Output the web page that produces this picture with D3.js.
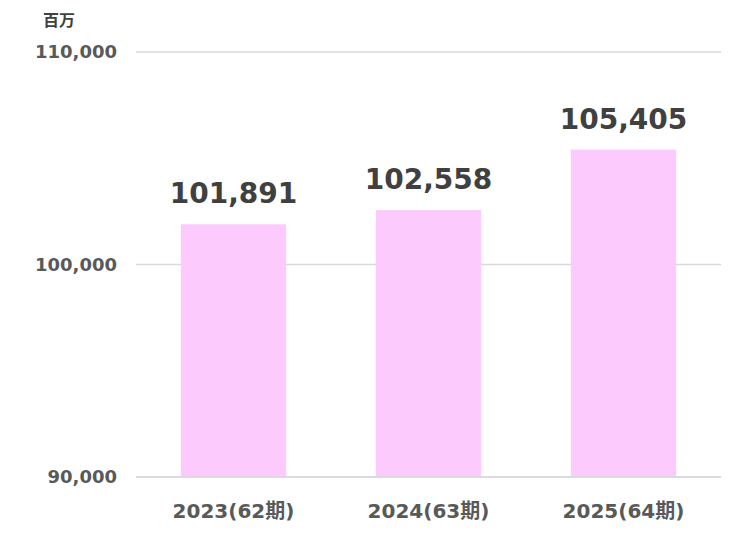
<!DOCTYPE html>
<html>
<head>
<meta charset="utf-8">
<script src="https://cdn.jsdelivr.net/npm/d3@7"></script>
<style>
  body { margin: 0; background: #fff; }
  text { font-family: "DejaVu Sans", "Noto Sans CJK JP", sans-serif; font-weight: bold; }
</style>
</head>
<body>
<svg id="chart" width="747" height="533"></svg>
<script>
const categories = ["2023(62期)", "2024(63期)", "2025(64期)"];
const sales = [101891, 102558, 105405];
const yTicks = [90000, 100000, 110000];
const unitLabel = "百万";

const svg = d3.select("#chart");
const plotLeft = 136, plotRight = 721, plotTop = 52, plotBottom = 477;

const x = d3.scaleBand()
	.domain(categories)
	.range([plotLeft, plotRight])
	.paddingInner(0.46)
	.paddingOuter(0.23);

const y = d3.scaleLinear()
	.domain([90000, 110000])
	.range([plotBottom, plotTop]);

const fmt = d3.format(",");

// gridlines
svg.selectAll("line.grid")
	.data(yTicks)
	.enter()
	.append("line")
	.attr("class", "grid")
	.attr("x1", plotLeft)
	.attr("x2", plotRight)
	.attr("y1", d => y(d))
	.attr("y2", d => y(d))
	.attr("stroke", "#d9d9d9")
	.attr("stroke-width", 1.5);

// y tick labels
svg.selectAll("text.ytick")
	.data(yTicks)
	.enter()
	.append("text")
	.attr("class", "ytick")
	.attr("x", 117)
	.attr("y", d => y(d))
	.attr("dy", "0.35em")
	.attr("text-anchor", "end")
	.attr("fill", "#595959")
	.style("font-size", "18px")
	.text(d => fmt(d));

svg.append("text")
	.attr("x", 59)
	.attr("y", 26)
	.attr("text-anchor", "middle")
	.attr("fill", "#404040")
	.style("font-size", "16px")
	.text(unitLabel);

const data = categories.map((c, i) => ({ cat: c, value: sales[i] }));

// bars
svg.selectAll("rect.bar")
	.data(data)
	.enter()
	.append("rect")
	.attr("class", "bar")
	.attr("x", d => x(d.cat))
	.attr("y", d => y(d.value))
	.attr("width", x.bandwidth())
	.attr("height", d => plotBottom - y(d.value))
	.attr("fill", "#fccafc");

// redraw baseline on top of bars
svg.append("line")
	.attr("x1", plotLeft)
	.attr("x2", plotRight)
	.attr("y1", plotBottom)
	.attr("y2", plotBottom)
	.attr("stroke", "#d9d9d9")
	.attr("stroke-width", 1.5);

// value labels
svg.selectAll("text.value")
	.data(data)
	.enter()
	.append("text")
	.attr("class", "value")
	.attr("x", d => x(d.cat) + x.bandwidth() / 2)
	.attr("y", d => y(d.value) - 21)
	.attr("text-anchor", "middle")
	.attr("fill", "#404040")
	.style("font-size", "28px")
	.text(d => fmt(d.value));

// category labels
svg.selectAll("text.cat")
	.data(categories)
	.enter()
	.append("text")
	.attr("class", "cat")
	.attr("x", d => x(d) + x.bandwidth() / 2)
	.attr("y", 518)
	.attr("text-anchor", "middle")
	.attr("fill", "#595959")
	.style("font-size", "20px")
	.text(d => d);
</script>
</body>
</html>
